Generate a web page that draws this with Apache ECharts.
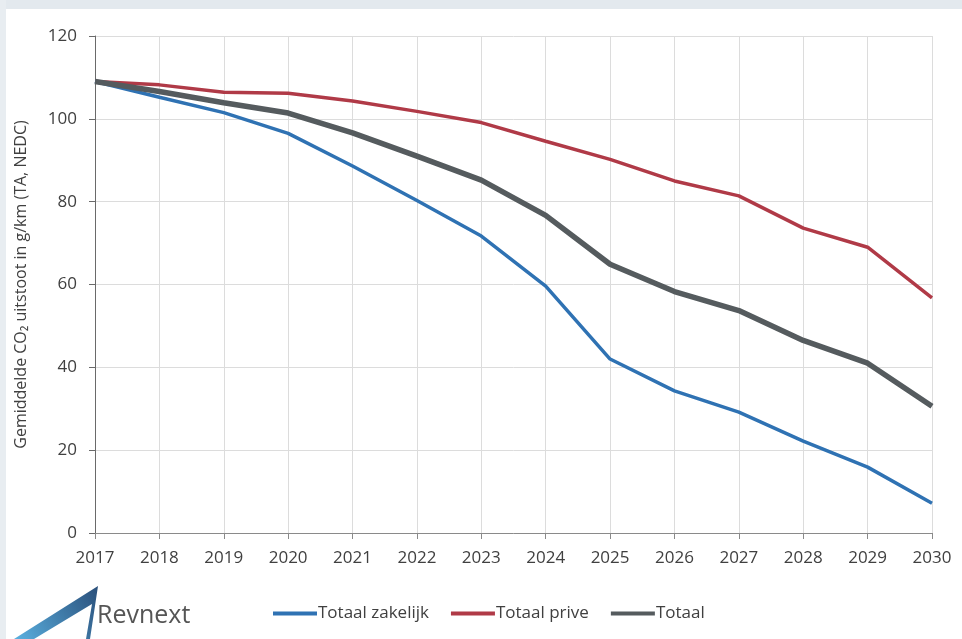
<!DOCTYPE html>
<html><head><meta charset="utf-8">
<script src="https://cdn.jsdelivr.net/npm/echarts@6/dist/echarts.min.js"></script>
<style>html,body{margin:0;padding:0;background:#fff}#c{width:962px;height:639px}</style>
</head><body><div id="c"></div>
<script>
const years = ['2017','2018','2019','2020','2021','2022','2023','2024','2025','2026','2027','2028','2029','2030'];
const zakelijk = [109, 105.2, 101.5, 96.5, 88.6, 80.3, 71.7, 59.6, 42, 34.3, 29.2, 22.2, 15.9, 7.2];
const prive = [109, 108.2, 106.4, 106.2, 104.3, 101.8, 99.1, 94.6, 90.2, 85, 81.4, 73.6, 69, 56.8];
const totaal = [109, 106.6, 103.9, 101.4, 96.6, 91, 85.2, 76.7, 64.9, 58.3, 53.7, 46.5, 41, 30.6];
const yTicks = [0, 20, 40, 60, 80, 100, 120];

const chart = echarts.init(document.getElementById('c'), null, {renderer:'canvas'});
const font = 'Open Sans, Noto Sans, sans-serif';
chart.setOption({
  animation:false,
  backgroundColor:'#fff',
  grid:{left:95, right:30, top:36, bottom:106},
  legend:{
    bottom:12, left:268,
    itemGap:22, itemWidth:44, itemHeight:4, icon:'rect',
    textStyle:{fontFamily:font, fontSize:17, color:'#404040', padding:[0,0,0,-4]},
    data:['Totaal zakelijk','Totaal prive','Totaal']
  },
  xAxis:{
    type:'category', data:years, boundaryGap:false,
    axisLine:{lineStyle:{color:'#8a8a8a', width:1}},
    axisTick:{show:true, alignWithLabel:true, length:6, lineStyle:{color:'#8a8a8a'}},
    axisLabel:{fontFamily:font, fontSize:17, color:'#404040', margin:17},
    splitLine:{show:true, lineStyle:{color:'#dcdcdc'}}
  },
  yAxis:{
    type:'value', min:0, max:120, interval:20,
    name:'Gemiddelde CO₂ uitstoot in g/km (TA, NEDC)',
    nameLocation:'middle', nameGap:66, nameRotate:90,
    nameTextStyle:{fontFamily:font, fontSize:16, color:'#404040'},
    axisLine:{show:true, lineStyle:{color:'#6a6a6a'}},
    axisTick:{show:true, length:6, lineStyle:{color:'#6a6a6a'}},
    axisLabel:{fontFamily:font, fontSize:17, color:'#404040', margin:18,
      formatter:v=> yTicks.includes(v) ? String(v) : ''},
    splitLine:{show:true, lineStyle:{color:'#dcdcdc'}}
  },
  series:[
    {name:'Totaal zakelijk', type:'line', data:zakelijk, showSymbol:false, symbol:'none',
      lineStyle:{color:'#2f72b3', width:3.5}, itemStyle:{color:'#2f72b3'}, z:3},
    {name:'Totaal prive', type:'line', data:prive, showSymbol:false, symbol:'none',
      lineStyle:{color:'#b03a47', width:3.5}, itemStyle:{color:'#b03a47'}, z:2},
    {name:'Totaal', type:'line', data:totaal, showSymbol:false, symbol:'none',
      lineStyle:{color:'#555b5e', width:5.5}, itemStyle:{color:'#555b5e'}, z:4}
  ],
  graphic:[
    {type:'rect', left:0, top:0, shape:{width:962, height:9}, style:{fill:'#e3e9ee'}, silent:true},
    {type:'rect', left:0, top:0, shape:{width:6, height:639}, style:{fill:'#e8edf1'}, silent:true},
    {type:'polygon', shape:{points:[[14,639],[98,586],[90,639],[86,639],[92,604],[34,639]]},
      style:{fill:new echarts.graphic.LinearGradient(0,1,1,0,[{offset:0,color:'#5ab0e0'},{offset:1,color:'#2a4f7a'}])}, silent:true},
    {type:'text', left:97, top:603, style:{text:'Revnext', font:'25px "Open Sans", sans-serif', fill:'#555'}, silent:true}
  ]
});
</script></body></html>
